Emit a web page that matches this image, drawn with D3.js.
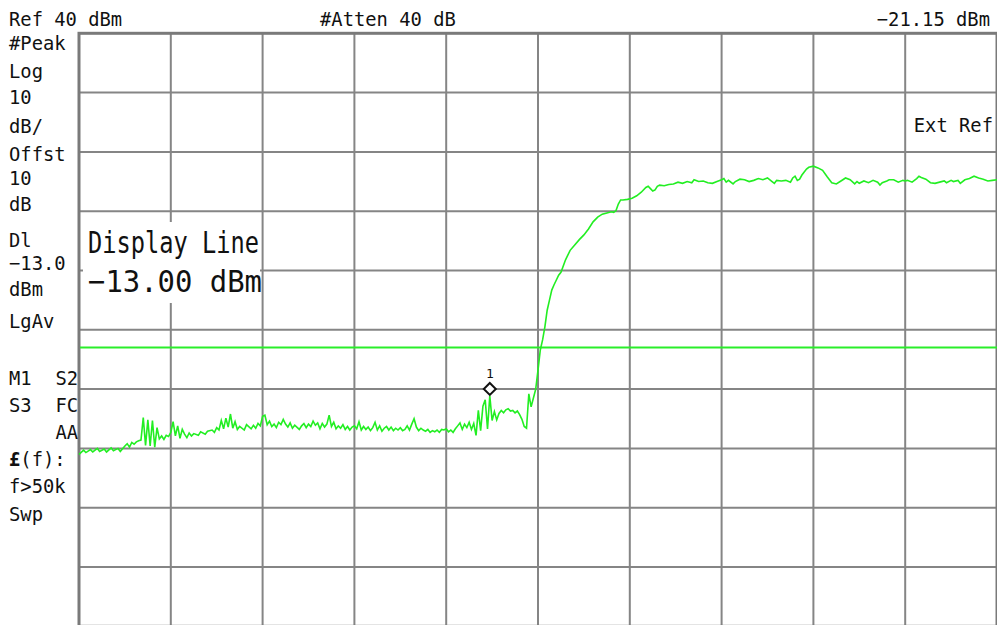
<!DOCTYPE html>
<html>
<head>
<meta charset="utf-8">
<script src="https://cdn.jsdelivr.net/npm/d3@7"></script>
<style>
  html, body { margin: 0; padding: 0; background: #fff; }
  svg { display: block; }
  text { font-family: "DejaVu Sans Mono", monospace; fill: #111; }
</style>
</head>
<body>
<svg id="chart" width="997" height="625"></svg>
<script>
// ---------------- data ----------------
const refLevel = 40;          // dBm (top of screen)
const dbPerDiv = 10;
const numDivs = 10;
const numBins = 400;          // sweep points (0..400)
const displayLineDbm = -13;
const markerBin = 179;
const markerDbm = -21.15;

const traceBins = [
  0,2,3,5,6,8,9,11,12,14,15,17,18,20,21,22,23,24,25,26,27,28,29,30,31,32,33,34,35,36,37,38,39,40,
  41,42,43,44,45,46,47,48,49,50,52,53,55,56,58,59,60,61,62,63,64,65,66,67,68,69,70,72,73,75,76,77,78,79,80,
  81,82,83,84,85,86,87,88,89,90,91,92,93,94,96,97,98,99,100,101,102,103,104,105,106,107,108,109,110,
  111,112,113,114,115,116,117,118,119,120,121,122,123,124,125,126,127,128,129,130,131,132,133,134,135,136,137,138,139,140,
  141,142,143,144,145,146,147,148,149,150,151,152,153,154,155,156,157,158,159,160,161,162,163,164,165,166,167,168,169,170,
  171,172,173,174,175,176,177,178,179,180,181,182,183,184,185,186,187,188,189,190,191,192,193,194,195,196,197,198,199,200,
  201,202,203,204,205,206,207,208,209,210,212,214,216,218,220,222,224,226,228,230,232,233,234,235,236,237,239,241,243,245,247,248,249,250,
  251,252,253,255,257,259,261,263,265,267,268,270,272,274,276,278,280,281,282,283,285,286,288,290,292,294,296,298,300,
  302,303,304,306,308,310,311,312,313,314,315,316,317,318,320,322,324,326,328,330,332,334,336,338,339,340,342,344,346,348,349,350,
  352,353,355,357,359,360,361,363,365,366,367,369,371,373,375,377,378,380,381,383,384,386,388,390,392,394,396,398,400
];
const traceDbm = [
  -31.0,-30.3,-30.7,-30.2,-30.6,-30.0,-30.5,-30.1,-30.6,-29.9,-30.4,-30.0,-30.5,-29.6,-29.2,-29.8,-29.0,-29.3,-28.9,-28.7,-28.6,-24.8,-29.5,-25.2,-29.6,-25.3,-29.8,-26.5,-28.4,-27.9,-28.5,-27.8,-28.0,-27.3,
  -25.5,-27.9,-26.2,-28.3,-26.8,-27.6,-28.2,-27.4,-27.9,-27.5,-27.8,-27.2,-27.6,-27.1,-26.9,-27.3,-26.5,-26.9,-25.3,-26.7,-24.9,-26.4,-24.2,-26.6,-25.5,-26.8,-26.3,-26.9,-26.0,-26.7,-26.1,-26.6,-25.8,-26.2,-24.6,
  -24.4,-26.0,-25.4,-26.3,-25.9,-26.5,-25.6,-26.0,-25.1,-25.9,-26.4,-25.7,-26.6,-26.1,-26.8,-26.2,-25.8,-26.5,-25.9,-26.3,-25.4,-26.1,-25.7,-26.7,-25.8,-26.4,-25.9,-24.4,-26.3,
  -25.6,-26.7,-26.2,-26.6,-26.0,-26.8,-26.3,-26.9,-26.4,-26.2,-26.7,-25.5,-26.9,-26.3,-26.8,-26.4,-27.0,-26.5,-25.6,-26.9,-26.2,-27.1,-26.6,-26.3,-26.9,-26.4,-27.0,-26.6,-26.9,-26.5,
  -27.0,-26.8,-26.2,-26.9,-25.9,-25.0,-26.4,-27.0,-26.6,-26.9,-27.1,-26.8,-27.3,-27.0,-27.2,-26.9,-27.3,-26.8,-26.9,-26.7,-27.2,-26.9,-27.3,-26.7,-26.2,-25.7,-26.8,-25.9,-26.5,-25.6,
  -26.8,-25.8,-27.8,-23.6,-27.0,-22.9,-21.8,-26.7,-21.15,-25.3,-23.8,-25.2,-24.1,-23.6,-24.0,-23.5,-23.3,-23.7,-23.6,-24.0,-23.7,-24.3,-25.1,-26.3,-26.6,-20.8,-23.0,-21.5,-20.0,-16.8,
  -13.4,-11.7,-9.5,-6.7,-5.0,-3.3,-2.4,-1.6,-0.8,-0.3,1.8,3.4,4.3,5.2,6.0,7.0,8.2,9.0,9.5,9.7,9.9,9.8,10.1,11.2,11.9,11.9,12.0,12.2,12.6,13.2,14.0,14.2,13.8,13.4,
  13.6,14.2,14.4,14.3,14.5,14.6,14.9,14.7,15.0,14.8,15.3,15.0,15.1,14.8,14.7,15.0,15.3,15.5,14.9,15.2,14.6,15.0,15.4,15.3,15.0,15.2,15.5,15.3,15.6,
  15.0,14.7,15.2,15.1,15.2,14.9,15.6,15.9,15.2,15.4,16.1,16.6,17.1,17.4,17.6,17.3,16.9,15.8,14.8,14.6,15.1,15.6,15.3,14.6,15.0,14.7,15.1,14.8,15.2,14.9,14.4,14.8,
  15.1,15.3,15.3,14.9,15.2,15.1,15.2,14.9,15.5,15.9,15.7,15.4,14.8,14.7,14.9,15.1,14.8,15.2,15.0,15.2,14.7,15.3,15.5,15.9,15.6,15.4,15.1,15.2,15.3
];

const headerLeft = "Ref 40 dBm";
const headerMid = "#Atten 40 dB";
const headerRight = "\u221221.15 dBm";
const extRefLabel = "Ext Ref";
const sideLabels = [
  {t: "#Peak", y: 50}, {t: "Log", y: 78}, {t: "10", y: 104}, {t: "dB/", y: 133},
  {t: "Offst", y: 161}, {t: "10", y: 185}, {t: "dB", y: 211},
  {t: "Dl", y: 247}, {t: "\u221213.0", y: 270}, {t: "dBm", y: 296},
  {t: "LgAv", y: 328},
  {t: "M1", y: 385}, {t: "S3", y: 412},
  {t: "f>50k", y: 493}, {t: "Swp", y: 521}
];
const sideRightLabels = [ {t: "S2", y: 385}, {t: "FC", y: 412}, {t: "AA", y: 439} ];
const displayLineText = ["Display Line", "\u221213.00 dBm"];

// ---------------- layout ----------------
const svg = d3.select("#chart");
const W = 997, H = 625;
const plot = {x0: 79, x1: 997, y0: 33.3, y1: 626.3};
const condense = 0.94;   // instrument font is a bit narrower than DejaVu Sans Mono

const x = d3.scaleLinear().domain([0, numBins]).range([plot.x0, plot.x1]);
const y = d3.scaleLinear().domain([refLevel - dbPerDiv * numDivs, refLevel]).range([plot.y1, plot.y0]);

svg.append("rect").attr("width", W).attr("height", H).attr("fill", "#fff");

const gridColor = "#858585";
const g = svg.append("g");

// grid lines (every division)
const xTicks = d3.range(1, numDivs).map(i => i * numBins / numDivs);
const yTicks = d3.range(1, numDivs).map(i => refLevel - i * dbPerDiv);

g.selectAll("line.vx").data(xTicks).join("line")
  .attr("x1", d => x(d)).attr("x2", d => x(d))
  .attr("y1", plot.y0).attr("y2", plot.y1)
  .attr("stroke", gridColor).attr("stroke-width", 2);
g.selectAll("line.hy").data(yTicks).join("line")
  .attr("x1", plot.x0).attr("x2", plot.x1)
  .attr("y1", d => y(d)).attr("y2", d => y(d))
  .attr("stroke", gridColor).attr("stroke-width", 2);

// border
g.append("rect")
  .attr("x", plot.x0).attr("y", plot.y0)
  .attr("width", plot.x1 - plot.x0).attr("height", plot.y1 - plot.y0)
  .attr("fill", "none").attr("stroke", "#7a7a7a").attr("stroke-width", 3);

// display line
g.append("line")
  .attr("x1", plot.x0 + 1).attr("x2", plot.x1)
  .attr("y1", y(displayLineDbm)).attr("y2", y(displayLineDbm))
  .attr("stroke", "#2aee2a").attr("stroke-width", 2);

// trace
const traceData = traceBins.map((b, i) => ({b, v: traceDbm[i]}));
g.append("path")
  .datum(traceData)
  .attr("fill", "none")
  .attr("stroke", "#22ee22")
  .attr("stroke-width", 1.6)
  .attr("stroke-linejoin", "miter")
  .attr("d", d3.line().x(d => x(d.b)).y(d => y(d.v)));

// marker
const mx = x(markerBin), my = y(markerDbm) - 7;
g.append("path")
  .attr("d", `M${mx},${my - 6} L${mx + 6},${my} L${mx},${my + 6} L${mx - 6},${my} Z`)
  .attr("fill", "#fff").attr("stroke", "#111").attr("stroke-width", 2);
g.append("text").attr("x", mx).attr("y", my - 11)
  .attr("text-anchor", "middle").style("font-size", "13px").text("1");

// display line annotation with white background
g.append("rect").attr("x", 83).attr("y", 222).attr("width", 177).attr("height", 81).attr("fill", "#fff");
g.append("text").attr("x", 88).attr("y", 253)
  .style("font-size", "31px")
  .attr("textLength", 171).attr("lengthAdjust", "spacingAndGlyphs")
  .text(displayLineText[0]);
g.append("text").attr("x", 88).attr("y", 292)
  .style("font-size", "31px")
  .attr("textLength", 174).attr("lengthAdjust", "spacingAndGlyphs")
  .text(displayLineText[1]);

// header & side texts (left-anchored; right-aligned ones get x computed from their end)
const T = svg.append("g").style("font-size", "20px");
function addText(str, xPos, yPos, endAligned) {
  const t = T.append("text").attr("y", yPos).attr("x", 0).text(str);
  const len = t.node().getComputedTextLength() * condense;
  t.attr("x", endAligned ? (xPos - len).toFixed(1) : xPos)
   .attr("textLength", len.toFixed(1)).attr("lengthAdjust", "spacingAndGlyphs");
  return t;
}
addText(headerLeft, 9, 26, false);
addText(headerMid, 320, 26, false);
addText(headerRight, 990, 26, true);
addText(extRefLabel, 993, 132, true);
sideLabels.forEach(d => addText(d.t, 9, d.y, false));
sideRightLabels.forEach(d => addText(d.t, 78, d.y, true));

const lf = T.append("text").attr("x", 9).attr("y", 466);
lf.append("tspan").style("font-weight", "bold").text("\u00a3");
lf.append("tspan").text("(f):");
const lfLen = lf.node().getComputedTextLength() * condense;
lf.attr("textLength", lfLen.toFixed(1)).attr("lengthAdjust", "spacingAndGlyphs");
</script>
</body>
</html>
